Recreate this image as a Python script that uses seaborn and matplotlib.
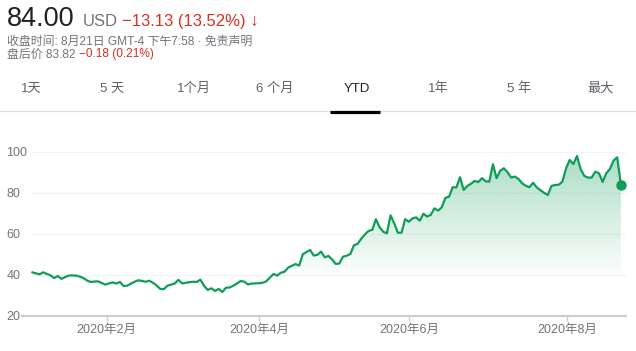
import numpy as np
import pandas as pd
import seaborn as sns
import matplotlib.pyplot as plt
from matplotlib.lines import Line2D

# Kurs per handelsdag 2020 (lest av grafen), en liste per maaned
jan = [41.3, 40.8, 40.3, 41.3, 40.5, 39.8, 38.5, 39.5, 38.1, 39.0, 39.7, 39.8, 39.7,
       39.2, 38.5, 37.3, 36.6, 36.8, 36.9, 36.1, 35.3]
feb = [35.9, 36.4, 35.8, 36.6, 34.6, 34.8, 35.8, 36.7, 37.4, 37.1, 36.7, 37.2, 36.2,
       34.9, 33.2, 33.1, 34.8, 35.3, 35.9]
mar = [37.6, 35.9, 36.2, 36.5, 36.7, 36.6, 37.7, 34.7, 32.7, 33.5, 32.2, 33.2, 31.7,
       33.8, 33.9, 34.8, 35.8, 37.1, 36.7, 35.4, 35.8, 35.9]
apr = [36.0, 36.2, 36.9, 38.7, 40.5, 39.7, 41.1, 41.6, 43.6, 44.5, 45.3, 44.6, 50.1,
       51.2, 52.2, 49.5, 49.8, 51.4, 48.6, 49.3, 47.6]
may = [45.4, 45.6, 48.9, 49.4, 50.2, 54.5, 55.2, 57.7, 59.8, 61.5, 62.0, 67.2, 63.3,
       61.1, 60.3, 69.1, 65.2, 60.6, 60.6, 67.2]
jun = [66.0, 67.6, 68.1, 66.5, 69.9, 68.5, 69.3, 72.5, 71.4, 73.0, 77.6, 78.2, 82.8,
       82.7, 87.7, 81.5, 83.4, 84.5, 85.9, 85.3, 87.2, 85.7]
jul = [85.5, 94.0, 87.2, 90.9, 92.0, 90.1, 87.5, 88.0, 86.8, 84.7, 83.5, 82.8, 85.0,
       82.7, 81.3, 80.1, 79.0, 83.4, 83.9, 84.0, 85.5, 92.0]
aug = [96.1, 94.1, 98.0, 91.6, 88.3, 87.5, 87.5, 90.4, 89.6, 85.4, 89.6, 91.7, 95.8,
       97.4, 84.0]

holidays = ['2020-01-20', '2020-02-17', '2020-04-10', '2020-05-25', '2020-07-03']
tick_dates = ['2020-02-01', '2020-04-01', '2020-06-01', '2020-08-01']
tick_labels = ['2020年2月', '2020年4月', '2020年6月', '2020年8月']
y_ticks = [20, 40, 60, 80, 100]
tabs = ['1天', '5 天', '1个月', '6 个月', 'YTD', '1年', '5 年', '最大']

price = np.array(jan + feb + mar + apr + may + jun + jul + aug)
days = pd.bdate_range('2020-01-02', '2020-08-21')
days = days[~days.isin(pd.to_datetime(holidays))]
df = pd.DataFrame({'i': np.arange(len(days)), 'pris': price})

# posisjon for maanedsmerker (helg havner mellom to handelsdager)
tick_pos = np.interp(pd.to_datetime(tick_dates).map(pd.Timestamp.toordinal),
                     days.map(pd.Timestamp.toordinal), df['i'])

sns.set_theme(style='white')
plt.rcParams['font.family'] = ['Liberation Sans', 'Noto Sans CJK SC', 'DejaVu Sans']

W, H = 636, 351
green = '#0f9d58'
grey = '#70757a'
red = '#d93025'

fig = plt.figure(figsize=(W / 100, H / 100), dpi=100)
ax = fig.add_axes([22 / W, (H - 316) / H, 604 / W, 186 / H])

# gradient under linja
fill = ax.fill_between(df['i'], df['pris'], 20, facecolor='none', edgecolor='none')
v = np.linspace(20, 100, 256)
grad = np.zeros((256, 1, 4))
grad[..., 0], grad[..., 1], grad[..., 2] = 15 / 255, 157 / 255, 88 / 255
grad[:, 0, 3] = np.clip((v - 38) / 62, 0, 1) * 0.36
im = ax.imshow(grad, aspect='auto', origin='lower',
               extent=[df['i'].iloc[0], df['i'].iloc[-1], 20, 100], zorder=1)
im.set_clip_path(fill.get_paths()[0], transform=ax.transData)

ax.hlines(y_ticks[1:], 0, len(df) + 0.4, color='#f4f4f4', lw=1, zorder=0)
sns.lineplot(data=df, x='i', y='pris', ax=ax, color=green, linewidth=1.6, zorder=3)
ax.plot(df['i'].iloc[-1], df['pris'].iloc[-1], 'o', color=green, ms=6.5, zorder=4)

ax.set_xlim(-2.8, len(df) - 1 + 1.4)
ax.set_ylim(20, 110.7)
ax.set_xlabel('')
ax.set_ylabel('')
for s in ['top', 'right', 'left']:
    ax.spines[s].set_visible(False)
ax.spines['bottom'].set_color('#cccccc')
ax.spines['bottom'].set_linewidth(1.5)

ax.set_xticks(tick_pos)
ax.set_xticklabels(tick_labels)
ax.tick_params(axis='x', direction='out', length=3.6, width=1, color='#cccccc',
               pad=2, labelsize=9, labelcolor=grey, bottom=True)
ax.set_yticks(y_ticks)
ax.set_yticklabels([str(t) for t in y_ticks])
ax.tick_params(axis='y', length=0, pad=11.2, labelsize=9, labelcolor=grey)
for lbl in ax.get_yticklabels():
    lbl.set_horizontalalignment('left')

# overskrift: tekstbiter etter hverandre
r = fig.canvas.get_renderer()


def rekke(deler, x, y):
    for tekst, farge, str_, gap, vekt in deler:
        x += gap
        t = fig.text(x / W, 1 - y / H, tekst, color=farge, fontsize=str_,
                     fontweight=vekt, va='baseline')
        x = t.get_window_extent(renderer=r).x1


rekke([('84.00', '#202124', 19.5, 0, 'normal'), ('USD', grey, 12, 8, 'normal'),
       ('−13.13 (13.52%)', red, 12, 4, 'normal'), ('↓', red, 12.5, 4, 'bold')], 7, 26)
rekke([('收盘时间: 8月21日 GMT-4 下午7:58 · 免责声明', grey, 8.6, 0, 'normal')], 7, 44.5)
rekke([('盘后价 83.82', grey, 8.6, 0, 'normal'),
       ('−0.18 (0.21%)', red, 8.6, 3, 'normal')], 7, 57.5)

for k, tab in enumerate(tabs):
    fig.text((31 + 81.4 * k) / W, 1 - 88.5 / H, tab, ha='center', va='center',
             fontsize=9.5, color='#202124' if tab == 'YTD' else '#5f6368')

fig.add_artist(Line2D([0, 1], [1 - 111 / H] * 2, color='#e0e0e0', lw=0.9,
                      transform=fig.transFigure))
fig.add_artist(Line2D([330 / W, 380 / W], [1 - 111.5 / H] * 2, color='black', lw=2.3,
                      solid_capstyle='butt', transform=fig.transFigure))

fig.savefig('out.png', dpi=100)
